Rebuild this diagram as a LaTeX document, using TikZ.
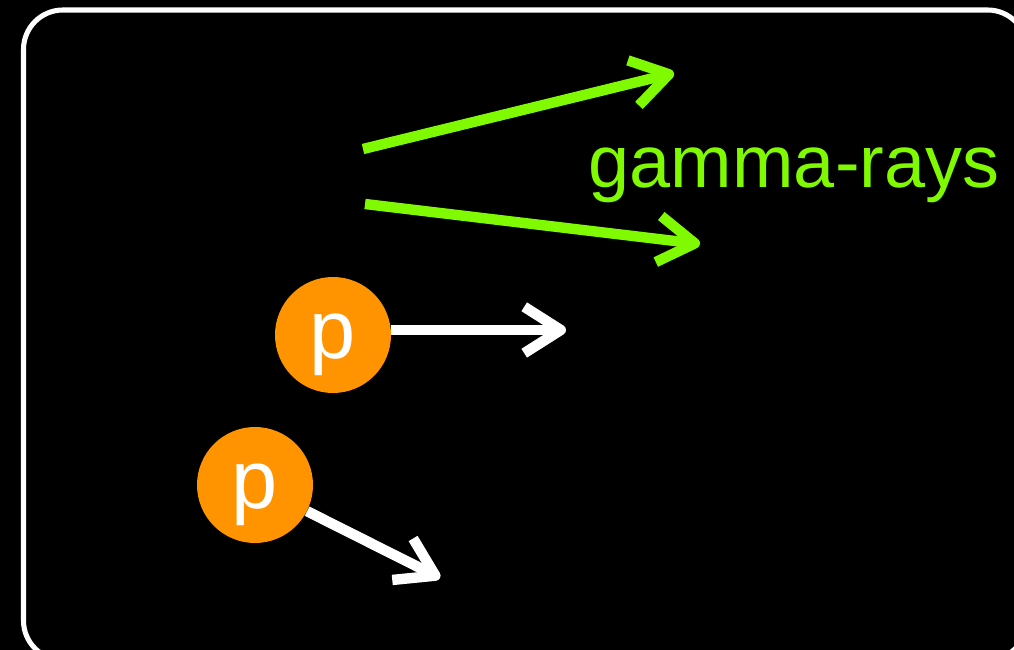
\documentclass[tikz,border=0pt]{standalone}
\usepackage{fontspec}
\setmainfont{Liberation Sans}
\usetikzlibrary{arrows.meta}

\definecolor{gammagreen}{RGB}{128,250,0}
\definecolor{protonorange}{RGB}{255,148,0}

\tikzset{
    proton/.style={circle, fill=protonorange, text=white, minimum size=116\unitpx,
        inner sep=0pt, text height=33pt, text depth=0pt,
        font=\fontsize{59}{59}\selectfont},
    ray/.style={gammagreen, line width=7.4pt,
        -{Straight Barb[length=26pt, width=33pt, line join=round]}},
    track/.style={white, line width=7.4pt,
        -{Straight Barb[length=26pt, width=33pt, line join=round]}}
}
\newcommand{\unitpx}{*0.711pt}

\begin{document}
\begin{tikzpicture}[x=0.025cm, y=-0.025cm]
    \useasboundingbox (0,0) rectangle (1014,650);
    \fill[black] (0,0) rectangle (1014,650);
    \clip (0,0) rectangle (1014,650);
    \draw[white, line width=3.6pt, rounded corners=28pt] (23.5,10) rectangle (1027,660);

    \node at (333,335) [proton] (P1) {p};
    \node at (255,485) [proton] (P2) {p};

    \coordinate (R1s) at (363,149);
    \coordinate (R1e) at (674,73);
    \coordinate (R2s) at (365,204);
    \coordinate (R2e) at (700,244);
    \coordinate (T1e) at (566,330);
    \coordinate (T2e) at (440,578);

    \node at (794,187) [anchor=base, gammagreen, font=\fontsize{52.5}{52.5}\selectfont] (Gamma) {gamma-rays};

    \draw[ray] (R1s) -- (R1e);
    \draw[ray] (R2s) -- (R2e);
    \draw[track] (P1.east |- T1e) -- (T1e);
    \draw[track] (P2) -- (T2e);
\end{tikzpicture}
\end{document}
